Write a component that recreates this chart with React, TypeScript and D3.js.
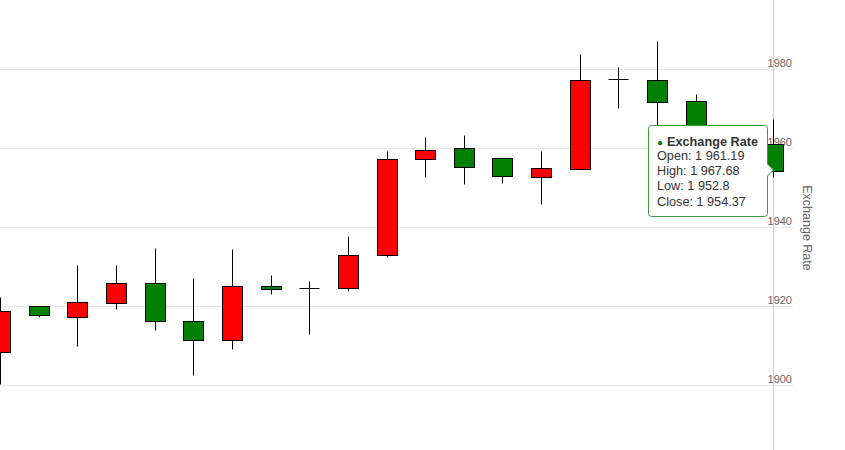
import React from "react";
import * as d3 from "d3";

const sessions = [
  "S01", "S02", "S03", "S04", "S05", "S06", "S07", "S08", "S09", "S10", "S11",
  "S12", "S13", "S14", "S15", "S16", "S17", "S18", "S19", "S20", "S21",
];
const opens = [1908.7, 1920.3, 1917.5, 1921.1, 1926.2, 1916.5, 1911.6, 1925.3, 1924.7, 1924.9, 1933.2, 1957.5, 1960.3, 1957.7, 1952.9, 1954.9, 1977.6, 1977.5, 1972.2, 1957.0, 1961.19];
const highs = [1922.6, 1920.3, 1930.6, 1930.6, 1934.9, 1927.3, 1934.6, 1928.1, 1926.7, 1938.1, 1959.6, 1963.1, 1963.5, 1957.7, 1959.6, 1984.1, 1980.8, 1987.3, 1973.8, 1962.0, 1967.68];
const lows = [1900.5, 1917.4, 1910.1, 1919.5, 1914.2, 1902.8, 1909.4, 1923.3, 1913.2, 1924.1, 1932.7, 1953.0, 1951.1, 1951.3, 1946.1, 1954.9, 1970.3, 1962.5, 1960.0, 1950.5, 1952.8];
const closes = [1919.1, 1918.05, 1921.2, 1926.2, 1916.5, 1911.6, 1925.4, 1924.6, 1924.7, 1933.2, 1957.4, 1959.7, 1955.4, 1953.2, 1955.2, 1977.5, 1977.6, 1971.9, 1963.5, 1961.5, 1954.37];
const yTicks = [1900, 1920, 1940, 1960, 1980];
const seriesName = "Exchange Rate";
const axisTitle = "Exchange Rate";
const hoveredIndex = 20;

const W = 845;
const H = 450;
const FONT = '"Liberation Sans", Arial, Helvetica, sans-serif';
const UP = "#ff0000";
const DOWN = "#008000";

function fmt(v: number): string {
  const s = String(v);
  const [ip, dp] = s.split(".");
  const withSep = ip.replace(/\B(?=(\d{3})+(?!\d))/g, " ");
  return dp ? `${withSep}.${dp}` : withSep;
}

export default function App() {
  const x = d3.scalePoint<string>().domain(sessions).range([0, 773]);
  const y = d3.scaleLinear().domain([1900, 1980]).range([386, 70]);
  const crisp = (v: number) => Math.round(v) + 0.5;

  const candles = sessions.map((s, i) => {
    const cx = crisp(x(s) as number);
    const o = opens[i];
    const c = closes[i];
    const top = crisp(y(Math.max(o, c)));
    const bot = crisp(y(Math.min(o, c)));
    const up = c > o;
    return (
      <g key={s}>
        <line x1={cx} x2={cx} y1={crisp(y(highs[i]))} y2={crisp(y(lows[i]))} stroke="#000" strokeWidth={1} />
        {bot - top < 1 ? (
          <line x1={cx - 10} x2={cx + 10} y1={top} y2={top} stroke="#000" strokeWidth={1} />
        ) : (
          <rect x={cx - 10} y={top} width={20} height={bot - top} fill={up ? UP : DOWN} stroke="#000" strokeWidth={1} />
        )}
      </g>
    );
  });

  const hx = crisp(x(sessions[hoveredIndex]) as number);

  // tooltip geometry
  const L = 648.5, T = 125.5, R = 767.5, B = 216.5, r = 3;
  const ay = 170;
  const tipPath = [
    `M ${L + r} ${T}`,
    `L ${R - r} ${T}`,
    `Q ${R} ${T} ${R} ${T + r}`,
    `L ${R} ${ay - 6}`,
    `L ${hx} ${ay}`,
    `L ${R} ${ay + 6}`,
    `L ${R} ${B - r}`,
    `Q ${R} ${B} ${R - r} ${B}`,
    `L ${L + r} ${B}`,
    `Q ${L} ${B} ${L} ${B - r}`,
    `L ${L} ${T + r}`,
    `Q ${L} ${T} ${L + r} ${T}`,
    "Z",
  ].join(" ");

  const lines = [
    `Open: ${fmt(opens[hoveredIndex])}`,
    `High: ${fmt(highs[hoveredIndex])}`,
    `Low: ${fmt(lows[hoveredIndex])}`,
    `Close: ${fmt(closes[hoveredIndex])}`,
  ];

  return (
    <svg
      width={W}
      height={H}
      style={{ position: "absolute", left: 0, top: 0, display: "block", background: "#fff" }}
      fontFamily={FONT}
    >
      <rect x={0} y={0} width={W} height={H} fill="#fff" />
      {yTicks.map((t) => (
        <g key={t}>
          <line x1={0} x2={793} y1={crisp(y(t)) - 1} y2={crisp(y(t)) - 1} stroke="#e6e6e6" strokeWidth={1} />
          <text x={792} y={y(t) - 3} textAnchor="end" fontSize={11} fill="#666">
            {t}
          </text>
        </g>
      ))}
      <text
        transform={`translate(803, ${228}) rotate(90)`}
        textAnchor="middle"
        fontSize={12.5}
        fill="#666"
      >
        {axisTitle}
      </text>
      <line x1={hx} x2={hx} y1={0} y2={H} stroke="#cccccc" strokeWidth={1} />
      {candles}
      <g>
        <path d={tipPath} fill="#ffffff" stroke="#3b9a3b" strokeWidth={1} />
        <text x={657} y={145.5} fontSize={12.7} fill="#333">
          <tspan fill={DOWN} fontSize={10}>●</tspan>
          <tspan fontWeight="bold" dx={4}>{seriesName}</tspan>
        </text>
        {lines.map((ln, i) => (
          <text key={ln} x={657} y={160 + i * 15.2} fontSize={12.7} fill="#333">
            {ln}
          </text>
        ))}
      </g>
    </svg>
  );
}
